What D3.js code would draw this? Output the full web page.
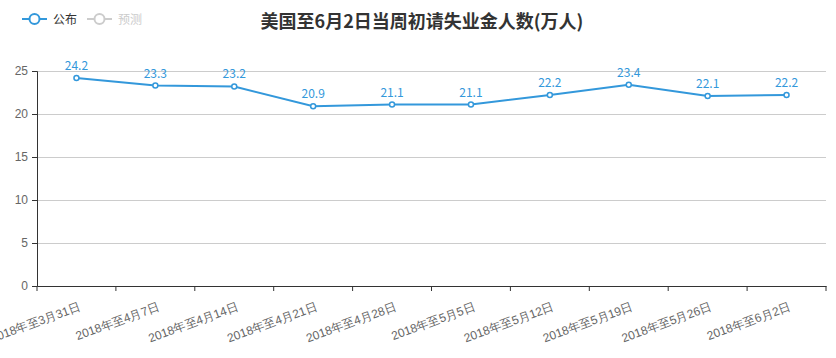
<!DOCTYPE html>
<html><head><meta charset="utf-8">
<script src="https://cdn.jsdelivr.net/npm/d3@7/dist/d3.min.js"></script>
<style>body{margin:0;background:#fff}svg{display:block;font-family:"Noto Sans CJK SC","Noto Sans",sans-serif}</style>
</head><body><svg id="c" width="836" height="358"></svg>
<script>
const categories = ["2018年至3月31日","2018年至4月7日","2018年至4月14日","2018年至4月21日","2018年至4月28日","2018年至5月5日","2018年至5月12日","2018年至5月19日","2018年至5月26日","2018年至6月2日"];
const published = [24.2,23.3,23.2,20.9,21.1,21.1,22.2,23.4,22.1,22.2];
const yTicks = [0,5,10,15,20,25];
const title = "美国至6月2日当周初请失业金人数(万人)";
const legendNames = ["公布","预测"];

const svg = d3.select("#c");
const m = {l:37, r:10, t:71, b:72};
const W = 836, H = 358;
const x = d3.scaleBand().domain(categories).range([m.l, W - m.r]);
const y = d3.scaleLinear().domain([0,25]).range([H - m.b, m.t]);
const blue = "#3398db";

// grid
svg.append("g").selectAll("line").data(yTicks.filter(d=>d>0)).join("line")
  .attr("x1", m.l).attr("x2", W - m.r).attr("y1", d=>y(d)).attr("y2", d=>y(d))
  .attr("stroke", "#ccc").attr("stroke-width", 1).attr("shape-rendering","crispEdges");

// y axis
const ya = svg.append("g").attr("transform", `translate(${m.l},0)`)
  .call(d3.axisLeft(y).tickValues(yTicks).tickSize(5).tickPadding(4));
ya.select(".domain").attr("stroke","#333");
ya.selectAll(".tick line").attr("stroke","#333");
ya.selectAll("text").attr("fill","#666").style("font-size","12px");

// x axis
const xa = svg.append("g").attr("transform", `translate(0,${y(0)})`)
  .call(d3.axisBottom(x).tickSize(0).tickSizeOuter(0));
xa.select(".domain").attr("stroke","#333");
const bounds = categories.map(c=>x(c)).concat([W - m.r]);
xa.selectAll(".bline").data(bounds).join("line").attr("class","bline")
  .attr("x1",d=>d).attr("x2",d=>d).attr("y1",0).attr("y2",5).attr("stroke","#333");
xa.selectAll(".tick text")
  .attr("fill","#666").style("font-size","12px")
  .attr("text-anchor","end")
  .attr("transform", "translate(2,16) rotate(-20)")
  .attr("x", 0).attr("y", 0).attr("dy", "0.71em");

// line
const cx = d => x(d) + x.bandwidth()/2;
const data = categories.map((c,i)=>({c, v: published[i]}));
svg.append("path").datum(data)
  .attr("d", d3.line().x(d=>cx(d.c)).y(d=>y(d.v)))
  .attr("fill","none").attr("stroke", blue).attr("stroke-width", 2);
svg.append("g").selectAll("circle").data(data).join("circle")
  .attr("cx", d=>cx(d.c)).attr("cy", d=>y(d.v)).attr("r", 2.5)
  .attr("fill","#fff").attr("stroke", blue).attr("stroke-width", 1.5);
svg.append("g").selectAll("text").data(data).join("text")
  .attr("x", d=>cx(d.c)).attr("y", d=>y(d.v) - 8)
  .attr("text-anchor","middle").attr("fill", blue).style("font-size","12px")
  .text(d=>d.v.toFixed(1));

// title
svg.append("text").attr("x", 422).attr("y", 28).attr("text-anchor","middle")
  .attr("fill","#333").style("font-size","18px").style("font-weight","bold").text(title);

// legend
const lg = svg.append("g");
const lcol = [blue, "#ccc"], ltxt = ["#333", "#ccc"];
legendNames.forEach((n,i)=>{
  const gx = 22 + i*65;
  lg.append("line").attr("x1", gx).attr("x2", gx+25).attr("y1", 19).attr("y2", 19)
    .attr("stroke", lcol[i]).attr("stroke-width", 2);
  lg.append("circle").attr("cx", gx+12.5).attr("cy", 19).attr("r", 5)
    .attr("fill","#fff").attr("stroke", lcol[i]).attr("stroke-width", 2);
  lg.append("text").attr("x", gx+31).attr("y", 23.5).attr("fill", ltxt[i])
    .style("font-size","12px").text(n);
});
</script></body></html>
